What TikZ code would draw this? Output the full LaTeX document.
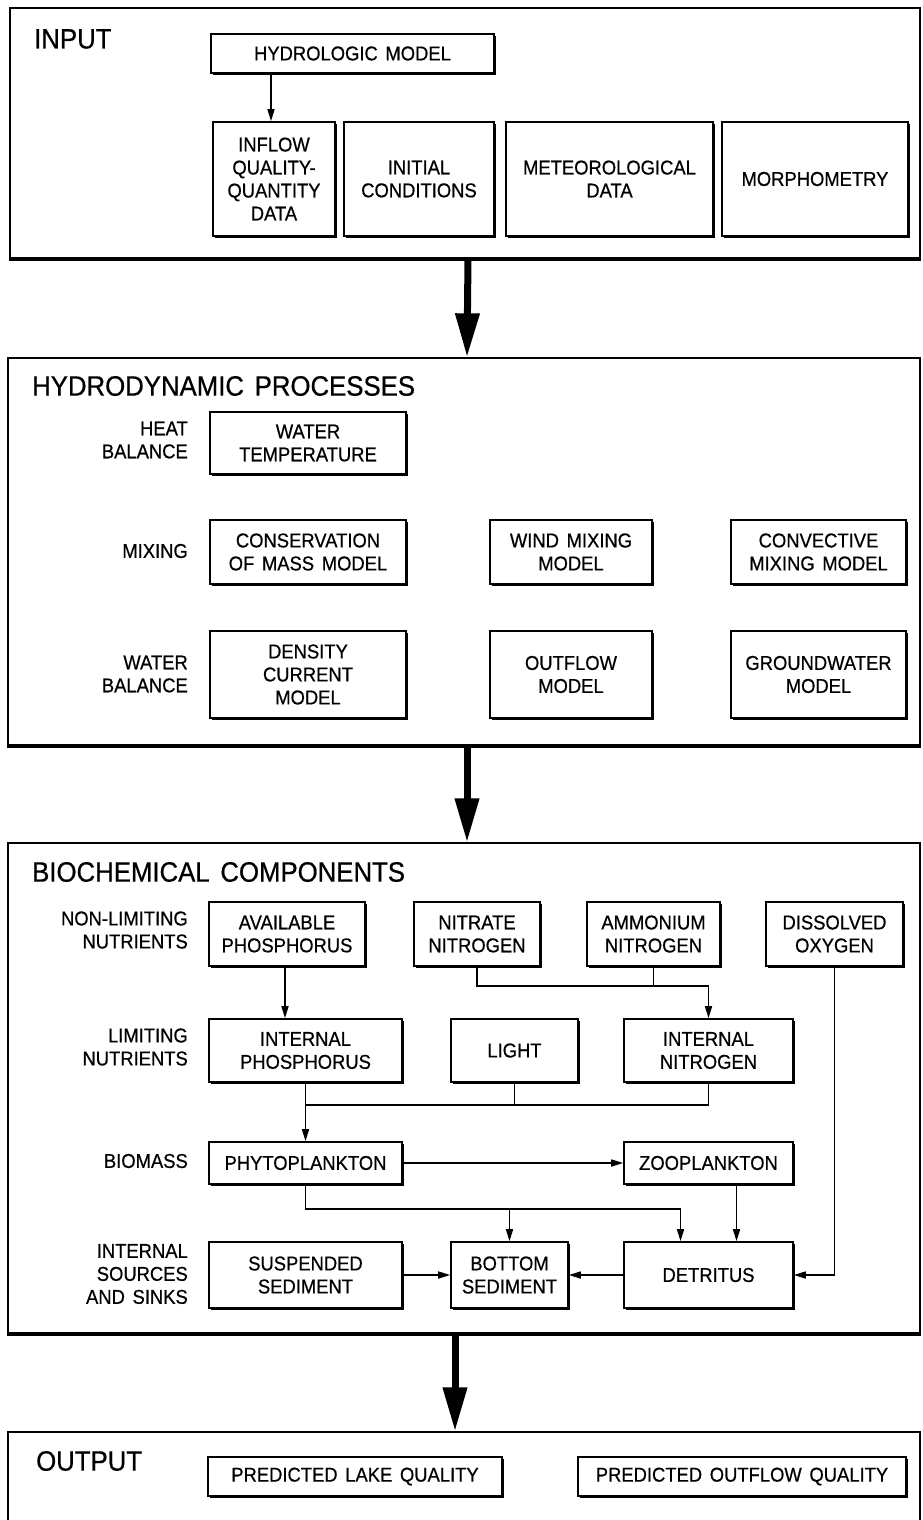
\documentclass[tikz,border=0pt]{standalone}
\usepackage{fontspec}
\setmainfont{Liberation Sans}[FakeStretch=0.92,WordSpace=1.5,FakeBold=0.6]
\usetikzlibrary{arrows.meta,shadows}
\begin{document}
\begin{tikzpicture}[x=1pt,y=-1pt,
  box/.style={draw, line width=1.6pt, fill=white, inner sep=2pt, align=center,
    font=\fontsize{20}{23}\selectfont,
    drop shadow={shadow xshift=1.5pt, shadow yshift=-2pt, fill=black, opacity=1}},
  frame/.style={draw, line width=1.3pt, inner sep=0pt},
  lab/.style={anchor=east, align=right, inner sep=0pt, font=\fontsize{20}{23}\selectfont},
  ttl/.style={anchor=west, inner sep=0pt, font=\fontsize{28}{30}\selectfont},
  arr/.style={line width=1.6pt, -{Triangle[length=12pt,width=7pt]}},
  ln/.style={line width=1.6pt},
  bigarr/.style={line width=7pt, -{Triangle[length=44pt,width=23pt]}}]
\useasboundingbox (0,0) rectangle (922,1520);

% frames
\node[frame, minimum width=910pt, minimum height=250pt] (fin) at (465,133) {};
\node[frame, minimum width=912pt, minimum height=387pt] (fhyd) at (464,551.5) {};
\node[frame, minimum width=912pt, minimum height=490pt] (fbio) at (464,1088) {};
\node[frame, minimum width=912pt, minimum height=96pt] (fout) at (464,1480) {};
\draw[line width=4pt] (fin.south west) -- (fin.south east);
\draw[line width=4pt] (fhyd.south west) -- (fhyd.south east);
\draw[line width=4pt] (fbio.south west) -- (fbio.south east);

\draw[bigarr] ([xshift=3pt]fin.south) -- ([xshift=3pt]fhyd.north);
\draw[bigarr] ([xshift=3pt]fhyd.south) -- ([xshift=3pt]fbio.north);
\draw[bigarr] ([xshift=-9pt]fbio.south) -- ([xshift=-9pt]fout.north);

% INPUT
\node[ttl] (tin) at (34,39) {INPUT};
\node[box, minimum width=283pt, minimum height=39pt] (hydm) at (352.5,53.5) {HYDROLOGIC MODEL};
\node[box, minimum width=122pt, minimum height=114pt] (inflow) at (274,179) {INFLOW\\QUALITY-\\QUANTITY\\DATA};
\node[box, minimum width=150pt, minimum height=114pt] (initc) at (419,179) {INITIAL\\CONDITIONS};
\node[box, minimum width=207pt, minimum height=114pt] (meteo) at (609.5,179) {METEOROLOGICAL\\DATA};
\node[box, minimum width=186pt, minimum height=114pt] (morph) at (815,179) {MORPHOMETRY};
\draw[arr] ([xshift=-3pt]hydm.south -| inflow.north) -- ([xshift=-3pt]inflow.north);

% HYDRODYNAMIC
\node[ttl] (thyd) at (32,386) {HYDRODYNAMIC PROCESSES};
\node[lab] (lheat) at (188,440) {HEAT\\BALANCE};
\node[lab] (lmix) at (188,551) {MIXING};
\node[lab] (lwat) at (188,674) {WATER\\BALANCE};
\node[box, minimum width=196pt, minimum height=62pt] (wtemp) at (308,443) {WATER\\TEMPERATURE};
\node[box, minimum width=196pt, minimum height=64pt] (cons) at (308,552) {CONSERVATION\\OF MASS MODEL};
\node[box, minimum width=162pt, minimum height=64pt] (wind) at (571,552) {WIND MIXING\\MODEL};
\node[box, minimum width=175pt, minimum height=64pt] (conv) at (818.5,552) {CONVECTIVE\\MIXING MODEL};
\node[box, minimum width=196pt, minimum height=87pt] (dens) at (308,674.5) {DENSITY\\CURRENT\\MODEL};
\node[box, minimum width=162pt, minimum height=87pt] (outf) at (571,674.5) {OUTFLOW\\MODEL};
\node[box, minimum width=175pt, minimum height=87pt] (grnd) at (818.5,674.5) {GROUNDWATER\\MODEL};

% BIOCHEMICAL
\node[ttl] (tbio) at (32,872) {BIOCHEMICAL COMPONENTS};
\node[lab] (lnon) at (188,930) {NON-LIMITING\\NUTRIENTS};
\node[lab] (llim) at (188,1047) {LIMITING\\NUTRIENTS};
\node[lab] (lbio) at (188,1161) {BIOMASS};
\node[lab] (lint) at (188,1274) {INTERNAL\\SOURCES\\AND SINKS};

\node[box, minimum width=156pt, minimum height=64pt] (avail) at (287,934) {AVAILABLE\\PHOSPHORUS};
\node[box, minimum width=126pt, minimum height=64pt] (nitr) at (477,934) {NITRATE\\NITROGEN};
\node[box, minimum width=133pt, minimum height=64pt] (ammo) at (653.5,934) {AMMONIUM\\NITROGEN};
\node[box, minimum width=137pt, minimum height=64pt] (doxy) at (834.5,934) {DISSOLVED\\OXYGEN};
\node[box, minimum width=193pt, minimum height=63pt] (intp) at (305.5,1050.5) {INTERNAL\\PHOSPHORUS};
\node[box, minimum width=127pt, minimum height=63pt] (light) at (514.5,1050.5) {LIGHT};
\node[box, minimum width=169pt, minimum height=63pt] (intn) at (708.5,1050.5) {INTERNAL\\NITROGEN};
\node[box, minimum width=193pt, minimum height=42pt] (phyto) at (305.5,1163) {PHYTOPLANKTON};
\node[box, minimum width=169pt, minimum height=42pt] (zoo) at (708.5,1163) {ZOOPLANKTON};
\node[box, minimum width=193pt, minimum height=66pt] (susp) at (305.5,1275) {SUSPENDED\\SEDIMENT};
\node[box, minimum width=117pt, minimum height=66pt] (bott) at (509.5,1275) {BOTTOM\\SEDIMENT};
\node[box, minimum width=169pt, minimum height=66pt] (detr) at (708.5,1275) {DETRITUS};

\draw[arr] ([xshift=-2pt]avail.south) -- ([xshift=-2pt]avail.south |- intp.north);
\draw[arr] (nitr.south) -- ++(0,19) -| (intn.north);
\draw[ln] (ammo.south) -- ++(0,19);
\draw[ln] (intp.south) -- ++(0,22) coordinate (j1) -| (intn.south);
\draw[ln] (light.south) -- (light.south |- j1);
\draw[arr] (j1) -- (phyto.north);
\draw[arr] (phyto.east) -- (zoo.west);
\draw[arr] (phyto.south) -- ++(0,24) coordinate (j2) -| ([xshift=-28pt]detr.north);
\draw[arr] (j2 -| bott.north) -- (bott.north);
\draw[arr] ([xshift=28pt]zoo.south) -- ([xshift=28pt]detr.north);
\draw[arr] (doxy.south) |- (detr.east);
\draw[arr] (susp.east) -- (bott.west);
\draw[arr] (detr.west) -- (bott.east);

% OUTPUT
\node[ttl] (tout) at (36,1461) {OUTPUT};
\node[box, minimum width=294pt, minimum height=39pt] (lake) at (355,1476.5) {PREDICTED LAKE QUALITY};
\node[box, minimum width=328pt, minimum height=39pt] (outq) at (742,1476.5) {PREDICTED OUTFLOW QUALITY};
\end{tikzpicture}
\end{document}
